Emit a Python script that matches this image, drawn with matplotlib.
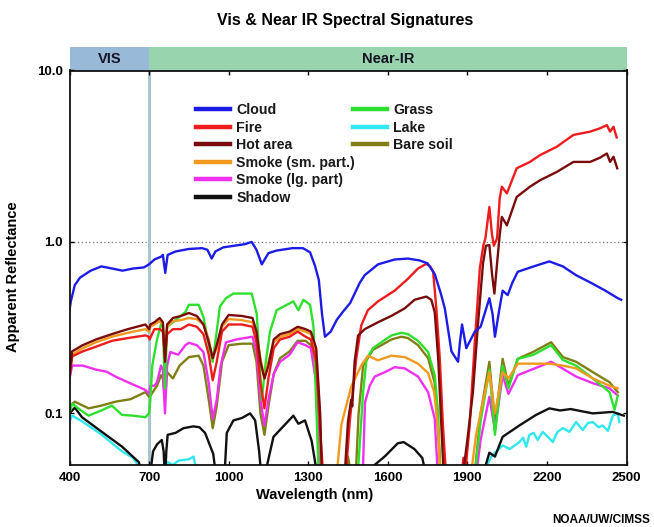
import matplotlib
matplotlib.use("Agg")
import matplotlib.pyplot as plt
from matplotlib.lines import Line2D
import matplotlib.transforms as mtransforms
from matplotlib.patches import Rectangle

plt.rcParams['font.family'] = ['Liberation Sans', 'DejaVu Sans']
plt.rcParams['font.weight'] = 'bold'

# ---------------- data (wavelength nm, apparent reflectance) ----------------
# values of 0.04 mark points where the curve leaves the bottom of the plot
cloud_wl = [400, 405, 420, 440, 480, 520, 560, 600, 640, 680, 700, 720, 745, 752, 761, 770,
            800, 850, 900, 920, 936, 950, 980, 1020, 1060, 1087, 1105, 1125, 1150, 1180,
            1240, 1280, 1307, 1325, 1340, 1352, 1363, 1385, 1407, 1430, 1458, 1495, 1513,
            1563, 1626, 1676, 1720, 1750, 1777, 1800, 1815, 1840, 1865, 1872, 1880, 1896,
            1928, 1950, 1960, 1983, 1995, 2004, 2020, 2033, 2052, 2070, 2090, 2150, 2209,
            2260, 2310, 2373, 2420, 2467, 2480]
cloud_val = [0.40, 0.45, 0.56, 0.62, 0.68, 0.72, 0.70, 0.68, 0.70, 0.71, 0.74, 0.79, 0.82, 0.84,
             0.66, 0.84, 0.88, 0.91, 0.92, 0.90, 0.80, 0.88, 0.93, 0.95, 0.97, 1.0, 0.90, 0.74,
             0.86, 0.89, 0.92, 0.92, 0.87, 0.73, 0.60, 0.38, 0.28, 0.30, 0.35, 0.39, 0.44, 0.58,
             0.64, 0.74, 0.79, 0.80, 0.78, 0.75, 0.65, 0.50, 0.41, 0.23, 0.20, 0.26, 0.33, 0.24,
             0.30, 0.32, 0.36, 0.47, 0.38, 0.28, 0.40, 0.52, 0.49, 0.58, 0.67, 0.72, 0.77, 0.72,
             0.64, 0.57, 0.52, 0.47, 0.46]

fire_wl = [400, 410, 450, 500, 560, 620, 686, 698, 702, 720, 740, 752, 760, 768, 790, 820, 850,
           880, 905, 925, 940, 955, 975, 1000, 1050, 1090, 1105, 1120, 1135, 1150, 1170, 1194,
           1230, 1260, 1290, 1310, 1330, 1345, 1358, 1440, 1457, 1481, 1500, 1525, 1563, 1626,
           1676, 1714, 1745, 1760, 1771, 1783, 1796, 1808, 1821, 1877, 1885, 1895, 1909, 1928,
           1947, 1960, 1968, 1983, 1993, 2000, 2012, 2022, 2030, 2049, 2086, 2136, 2174, 2237,
           2300, 2363, 2400, 2426, 2438, 2451, 2463]
fire_val = [0.16, 0.215, 0.23, 0.245, 0.265, 0.275, 0.285, 0.28, 0.27, 0.31, 0.31, 0.30, 0.21,
            0.29, 0.31, 0.31, 0.33, 0.32, 0.29, 0.22, 0.156, 0.20, 0.30, 0.33, 0.33, 0.32, 0.26,
            0.15, 0.107, 0.16, 0.24, 0.27, 0.28, 0.30, 0.28, 0.27, 0.20, 0.08, 0.04, 0.04, 0.091,
            0.208, 0.326, 0.40, 0.45, 0.52, 0.61, 0.70, 0.745, 0.72, 0.67, 0.41, 0.21, 0.085, 0.04,
            0.04, 0.055, 0.05, 0.086, 0.26, 0.70, 0.95, 1.05, 1.6, 1.1, 0.95, 1.05, 1.8, 2.1, 1.92,
            2.69, 2.93, 3.21, 3.59, 4.21, 4.4, 4.6, 4.8, 4.4, 4.7, 4.07]

hot_wl = [400, 410, 450, 500, 560, 620, 686, 700, 705, 720, 740, 752, 760, 768, 790, 820, 850,
          880, 905, 925, 940, 955, 975, 1000, 1050, 1090, 1105, 1120, 1135, 1150, 1170, 1194,
          1230, 1260, 1290, 1310, 1330, 1345, 1352, 1436, 1450, 1462, 1466, 1475, 1488, 1513,
          1563, 1613, 1664, 1701, 1745, 1764, 1777, 1790, 1802, 1812, 1880, 1900, 1921, 1940,
          1959, 1970, 1983, 1993, 2002, 2012, 2022, 2030, 2049, 2086, 2136, 2174, 2237, 2300,
          2363, 2400, 2426, 2438, 2451, 2465]
hot_val = [0.17, 0.23, 0.25, 0.27, 0.29, 0.31, 0.33, 0.31, 0.33, 0.34, 0.36, 0.34, 0.20, 0.33,
           0.36, 0.37, 0.385, 0.37, 0.33, 0.26, 0.21, 0.25, 0.33, 0.375, 0.37, 0.36, 0.30, 0.20,
           0.16, 0.19, 0.27, 0.29, 0.30, 0.32, 0.31, 0.30, 0.24, 0.10, 0.04, 0.04, 0.09, 0.12,
           0.11, 0.20, 0.285, 0.31, 0.34, 0.37, 0.41, 0.46, 0.48, 0.46, 0.39, 0.21, 0.085, 0.04,
           0.04, 0.07, 0.133, 0.33, 0.75, 0.95, 0.96, 0.65, 0.50, 0.75, 1.1, 1.4, 1.25, 1.83,
           2.1, 2.29, 2.56, 2.93, 2.93, 3.1, 3.28, 2.93, 3.14, 2.69]

smoke_sm_wl = [400, 410, 450, 500, 560, 620, 686, 700, 705, 720, 740, 752, 760, 768, 790, 820,
               850, 880, 905, 925, 940, 955, 975, 1000, 1050, 1090, 1105, 1120, 1135, 1150, 1170,
               1194, 1230, 1260, 1290, 1310, 1330, 1345, 1350, 1405, 1425, 1462, 1500, 1525, 1563,
               1613, 1664, 1714, 1752, 1775, 1790, 1798, 1910, 1933, 1960, 1983, 2004, 2033, 2055,
               2090, 2150, 2209, 2260, 2310, 2373, 2436, 2467]
smoke_sm_val = [0.17, 0.22, 0.24, 0.26, 0.28, 0.295, 0.31, 0.30, 0.32, 0.33, 0.345, 0.33, 0.22,
                0.32, 0.345, 0.35, 0.36, 0.355, 0.33, 0.27, 0.21, 0.24, 0.32, 0.355, 0.35, 0.34,
                0.29, 0.21, 0.16, 0.20, 0.26, 0.28, 0.29, 0.31, 0.30, 0.29, 0.23, 0.09, 0.04, 0.04,
                0.086, 0.143, 0.19, 0.217, 0.204, 0.217, 0.213, 0.195, 0.172, 0.133, 0.08, 0.04,
                0.04, 0.075, 0.12, 0.174, 0.10, 0.174, 0.16, 0.195, 0.195, 0.195, 0.19, 0.183,
                0.16, 0.145, 0.14]

smoke_lg_wl = [400, 410, 450, 500, 540, 573, 620, 686, 700, 705, 720, 730, 745, 752, 760, 768,
               780, 810, 837, 850, 880, 905, 925, 940, 955, 970, 990, 1030, 1090, 1105, 1120,
               1135, 1150, 1170, 1194, 1230, 1260, 1290, 1310, 1330, 1343, 1505, 1514, 1532, 1551,
               1589, 1626, 1664, 1714, 1752, 1777, 1790, 1930, 1950, 1983, 2004, 2033, 2055, 2090,
               2216, 2310, 2373, 2436, 2467]
smoke_lg_val = [0.16, 0.19, 0.19, 0.18, 0.175, 0.164, 0.152, 0.137, 0.13, 0.145, 0.145, 0.152,
                0.19, 0.18, 0.10, 0.19, 0.228, 0.22, 0.25, 0.258, 0.25, 0.228, 0.15, 0.093, 0.12,
                0.19, 0.26, 0.27, 0.28, 0.23, 0.12, 0.085, 0.12, 0.17, 0.20, 0.22, 0.26, 0.25,
                0.24, 0.15, 0.04, 0.04, 0.116, 0.145, 0.164, 0.174, 0.186, 0.183, 0.164, 0.133,
                0.093, 0.04, 0.04, 0.07, 0.125, 0.08, 0.167, 0.13, 0.167, 0.20, 0.164, 0.15, 0.14,
                0.127]

shadow_wl = [400, 420, 447, 522, 598, 661, 675, 705, 715, 730, 748, 755, 760, 765, 770, 800, 830,
             867, 890, 911, 942, 955, 985, 993, 1018, 1050, 1081, 1100, 1115, 1125, 1145, 1169,
             1206, 1244, 1263, 1288, 1313, 1338, 1538, 1550, 1588, 1638, 1660, 1700, 1730, 1750,
             1951, 1983, 2004, 2033, 2096, 2159, 2209, 2250, 2290, 2330, 2373, 2410, 2448, 2490]
shadow_val = [0.10, 0.108, 0.095, 0.078, 0.064, 0.052, 0.045, 0.045, 0.06, 0.066, 0.07, 0.06,
              0.04, 0.06, 0.075, 0.077, 0.082, 0.084, 0.083, 0.077, 0.058, 0.04, 0.045, 0.077,
              0.091, 0.094, 0.10, 0.091, 0.06, 0.04, 0.05, 0.073, 0.084, 0.097, 0.087, 0.091,
              0.069, 0.04, 0.04, 0.05, 0.056, 0.067, 0.068, 0.062, 0.055, 0.04, 0.04, 0.059,
              0.056, 0.073, 0.085, 0.098, 0.107, 0.104, 0.106, 0.103, 0.10, 0.101, 0.102, 0.097]

grass_wl = [400, 410, 440, 472, 520, 560, 598, 640, 686, 700, 705, 712, 730, 745, 752, 760, 768,
            790, 837, 850, 887, 905, 925, 940, 955, 967, 990, 1018, 1087, 1106, 1125, 1140, 1156,
            1181, 1244, 1263, 1282, 1307, 1320, 1338, 1345, 1485, 1507, 1520, 1544, 1576, 1614,
            1651, 1676, 1714, 1752, 1777, 1790, 1798, 1925, 1950, 1983, 2004, 2033, 2055, 2090,
            2150, 2216, 2260, 2310, 2373, 2436, 2455, 2467]
grass_val = [0.10, 0.114, 0.105, 0.097, 0.104, 0.111, 0.098, 0.097, 0.095, 0.10, 0.121, 0.19,
             0.27, 0.33, 0.32, 0.14, 0.32, 0.34, 0.39, 0.43, 0.43, 0.365, 0.25, 0.20, 0.30, 0.42,
             0.47, 0.50, 0.50, 0.38, 0.12, 0.20, 0.30, 0.40, 0.45, 0.40, 0.46, 0.43, 0.32, 0.05,
             0.04, 0.04, 0.133, 0.208, 0.24, 0.26, 0.285, 0.295, 0.29, 0.265, 0.228, 0.167, 0.10,
             0.04, 0.04, 0.09, 0.18, 0.075, 0.19, 0.14, 0.208, 0.22, 0.25, 0.205, 0.19, 0.16,
             0.133, 0.105, 0.127]

lake_wl = [400, 410, 447, 522, 598, 640, 665, 672, 750, 770, 790, 810, 850, 868, 880, 895,
           1955, 1975, 1990, 2033, 2060, 2096, 2110, 2122, 2134, 2150, 2165, 2184, 2200, 2222,
           2240, 2260, 2285, 2310, 2335, 2355, 2373, 2395, 2410, 2430, 2448, 2467, 2473]
lake_val = [0.09, 0.097, 0.090, 0.075, 0.060, 0.055, 0.048, 0.04, 0.04, 0.052, 0.05, 0.053,
            0.054, 0.056, 0.045, 0.04, 0.04, 0.05, 0.056, 0.065, 0.062, 0.068, 0.072, 0.064,
            0.075, 0.077, 0.07, 0.078, 0.074, 0.068, 0.078, 0.082, 0.078, 0.089, 0.08, 0.088,
            0.089, 0.083, 0.085, 0.079, 0.097, 0.10, 0.089]

soil_wl = [400, 420, 472, 520, 573, 630, 686, 700, 705, 730, 745, 752, 760, 768, 790, 815, 850,
           887, 905, 925, 940, 955, 975, 1000, 1050, 1090, 1105, 1120, 1135, 1150, 1170, 1194,
           1230, 1260, 1290, 1310, 1330, 1343, 1440, 1450, 1460, 1478, 1490, 1507, 1544, 1576,
           1614, 1651, 1676, 1714, 1752, 1777, 1795, 1800, 1925, 1950, 1983, 2004, 2033, 2055,
           2090, 2147, 2216, 2260, 2310, 2373, 2436, 2467]
soil_val = [0.11, 0.117, 0.107, 0.111, 0.117, 0.121, 0.133, 0.125, 0.127, 0.145, 0.167, 0.16,
            0.12, 0.174, 0.16, 0.19, 0.213, 0.217, 0.19, 0.12, 0.082, 0.11, 0.20, 0.25, 0.255,
            0.255, 0.20, 0.10, 0.075, 0.11, 0.17, 0.21, 0.23, 0.265, 0.265, 0.25, 0.16, 0.04,
            0.04, 0.056, 0.045, 0.04, 0.10, 0.19, 0.235, 0.25, 0.27, 0.28, 0.275, 0.25, 0.21,
            0.15, 0.06, 0.04, 0.04, 0.10, 0.20, 0.086, 0.208, 0.145, 0.208, 0.228, 0.26, 0.213,
            0.20, 0.174, 0.152, 0.133]

series = [
    ("Cloud", cloud_wl, cloud_val, "#1c1ce6"),
    ("Fire", fire_wl, fire_val, "#ee1c1c"),
    ("Hot area", hot_wl, hot_val, "#7a0c0c"),
    ("Smoke (sm. part.)", smoke_sm_wl, smoke_sm_val, "#f29a1e"),
    ("Smoke (lg. part)", smoke_lg_wl, smoke_lg_val, "#f030f0"),
    ("Shadow", shadow_wl, shadow_val, "#111111"),
    ("Grass", grass_wl, grass_val, "#2ee02e"),
    ("Lake", lake_wl, lake_val, "#30e8ee"),
    ("Bare soil", soil_wl, soil_val, "#7f7f14"),
]
xticks = [400, 700, 1000, 1300, 1600, 1900, 2200, 2500]
yticks = [0.1, 1.0, 10.0]
ytick_labels = ["0.1", "1.0", "10.0"]

# ---------------- figure ----------------
W, H = 654, 527
fig = plt.figure(figsize=(W / 100, H / 100), dpi=100)
L, R, T, B = 69.5, 626.5, 70.5, 465
ax = fig.add_axes([L / W, 1 - B / H, (R - L) / W, (B - T) / H])

draw_order = ["Lake", "Shadow", "Bare soil", "Smoke (lg. part)", "Grass", "Smoke (sm. part.)",
              "Fire", "Hot area", "Cloud"]
lookup = {s[0]: s for s in series}
for name in draw_order:
    n, wl, val, col = lookup[name]
    ax.plot(wl, val, color=col, lw=1.7, solid_joinstyle='round')

ax.set_yscale('log')
ax.set_xlim(400, 2500)
ax.set_ylim(0.05, 10)
ax.set_xticks(xticks)
ax.set_xticklabels([str(t) for t in xticks])
ax.set_yticks(yticks)
ax.set_yticklabels(ytick_labels)
ax.yaxis.set_minor_locator(matplotlib.ticker.NullLocator())
ax.tick_params(direction='in', top=True, right=True, length=3, width=1,
               labelsize=9.5, pad=5)
for lab in ax.get_xticklabels() + ax.get_yticklabels():
    lab.set_fontweight('bold')
for sp in ax.spines.values():
    sp.set_linewidth(1.3)
    sp.set_color('#111111')

ax.axhline(1.0, ls=(0, (1, 2)), color='#777777', lw=0.9, zorder=0)
ax.axvline(700, color='#a9c6cc', lw=2.2, zorder=0.5)

# header band
trans = mtransforms.blended_transform_factory(ax.transData, ax.transAxes)
hh = 23.5 / (B - T)
ax.add_patch(Rectangle((400, 1.0), 300, hh, transform=trans, clip_on=False,
                       facecolor='#98bad8', edgecolor='none'))
ax.add_patch(Rectangle((700, 1.0), 1800, hh, transform=trans, clip_on=False,
                       facecolor='#98d4ae', edgecolor='none'))
ax.text(550, 1.0 + hh / 2, "VIS", transform=trans, ha='center', va='center',
        fontsize=10.5, fontweight='bold', color='#151525')
ax.text(1600, 1.0 + hh / 2, "Near-IR", transform=trans, ha='center', va='center',
        fontsize=10.5, fontweight='bold', color='#151525')

# labels
ax.set_xlabel("Wavelength (nm)", fontsize=10.5, fontweight='bold')
ax.xaxis.set_label_coords((315 - L) / (R - L), (B - 488) / (B - T))
ax.set_ylabel("Apparent Reflectance", fontsize=10.5, fontweight='bold')
ax.yaxis.set_label_coords((20 - L) / (R - L), (B - 277) / (B - T))
fig.text(345 / W, 1 - 20 / H, "Vis & Near IR Spectral Signatures", ha='center', va='center',
         fontsize=11.5, fontweight='bold')
fig.text(650 / W, 1 - 520 / H, "NOAA/UW/CIMSS", ha='right', va='center',
         fontsize=8.5, fontweight='bold')

# legends
col1 = ["Cloud", "Fire", "Hot area", "Smoke (sm. part.)", "Smoke (lg. part)", "Shadow"]
col2 = ["Grass", "Lake", "Bare soil"]


def make_legend(names, x_px):
    handles = [Line2D([], [], color=lookup[n][3], lw=3.2) for n in names]
    leg = ax.legend(handles, names, loc='upper left',
                    bbox_to_anchor=((x_px - L) / (R - L), (B - 103) / (B - T)),
                    frameon=False, borderaxespad=0, borderpad=0, handlelength=2.4,
                    handletextpad=0.45, labelspacing=0.25,
                    prop={'weight': 'bold', 'size': 10.2})
    for t in leg.get_texts():
        t.set_color('#1a1a1a')
    return leg


leg1 = make_legend(col1, 196)
ax.add_artist(leg1)
make_legend(col2, 353)

fig.savefig("out.png", dpi=100)
